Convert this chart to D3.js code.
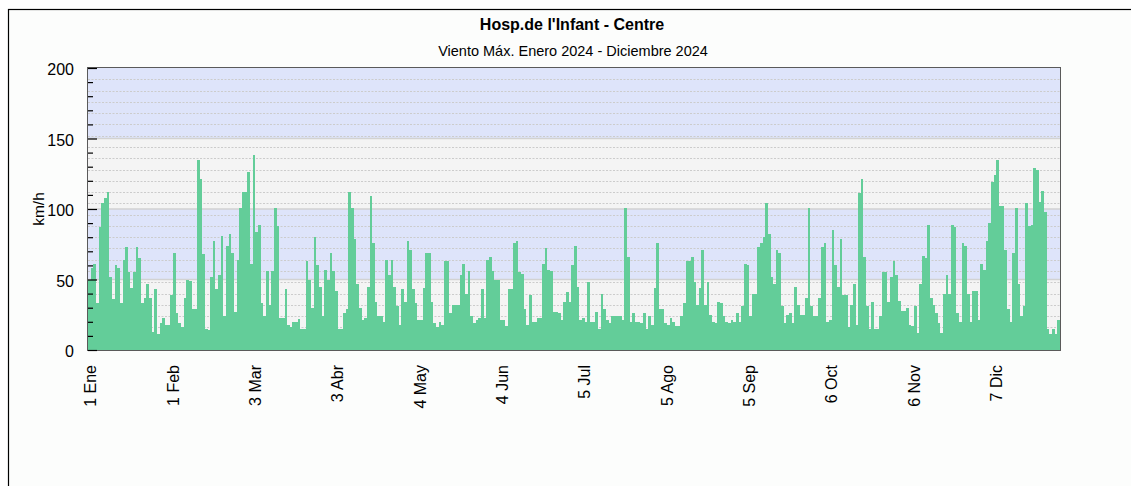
<!DOCTYPE html>
<html>
<head>
<meta charset="utf-8">
<script src="https://cdn.jsdelivr.net/npm/d3@7"></script>
<style>
  html, body { margin: 0; padding: 0; background: #ffffff; }
  svg { display: block; }
  text { font-family: "Liberation Sans", Arial, sans-serif; fill: #000; }
</style>
</head>
<body>
<svg id="chart" width="1131" height="486"></svg>
<script>
// ---- data: daily max wind (km/h), one array per month ----
const ene = [50,58,61,33,87,104,108,112,52,36,60,58,33,64,73,55,44,55,73,65,33,37,47,37,13,43,11,19,23,18,18];
const feb = [39,69,26,19,16,37,50,49,29,29,135,121,68,15,14,52,77,43,53,81,24,74,82,69,27,64,101,112,112];
const mar = [126,61,138,84,89,33,24,56,32,56,101,88,23,23,43,18,16,20,20,22,15,15,63,50,30,80,60,45,24,57,50];
const abr = [69,56,42,15,15,26,29,112,101,79,47,30,21,23,45,109,76,34,24,24,20,64,53,64,45,31,18,43,34,77];
const may = [71,43,33,21,21,44,69,69,34,19,16,20,18,63,63,26,32,32,32,53,61,40,56,24,19,21,23,43,23,64,66];
const jun = [56,50,50,21,21,17,43,43,76,77,55,54,29,18,39,20,20,23,23,61,72,57,56,27,27,26,21,34,41,34];
const jul = [60,74,45,21,23,20,48,20,20,27,15,40,29,21,19,24,24,24,24,21,101,66,20,26,20,20,19,26,15,24,18];
const ago = [44,76,29,29,19,18,23,20,17,17,24,33,63,63,66,48,32,44,71,32,48,25,20,19,34,33,24,20,19,21,20];
const sep = [26,20,31,61,60,24,40,40,73,76,80,104,82,52,47,71,69,31,19,25,26,19,45,32,25,25,37,101,31,24];
const oct = [24,37,73,76,20,21,85,60,45,79,39,39,16,32,47,18,111,121,66,31,15,34,15,15,24,55,55,34,52,63,53];
const nov = [35,28,28,30,18,17,31,12,47,67,65,89,37,32,26,19,12,40,53,40,89,87,26,20,76,74,40,20,42,42];
const dic = [21,61,57,77,90,119,124,135,102,102,71,29,20,69,101,47,24,31,104,88,89,129,128,105,113,98,15,11,15,11,21];

// x-axis tick labels and the day-of-year index they sit on
const xTickLabels = ["1 Ene","1 Feb","3 Mar","3 Abr","4 May","4 Jun","5 Jul","5 Ago","5 Sep","6 Oct","6 Nov","7 Dic"];
const xTickDays   = [0, 31, 62, 93, 124, 155, 186, 217, 248, 279, 310, 341];

// y-axis
const yMajorTicks = [0, 50, 100, 150, 200];
const yMinorTicks = [10,20,30,40,60,70,80,90,110,120,130,140,160,170,180,190];
const bandEdges   = [[0,50,"gray"],[50,100,"blue"],[100,150,"gray"],[150,200,"blue"]];
const gridValues  = [8,16,24,32,40,48,56,64,72,80,88,96,104,112,120,128,136,144,152,160,168,176,184,192];

const title = "Hosp.de l'Infant - Centre";
const subtitle = "Viento Máx. Enero 2024 - Diciembre 2024";
const yLabel = "km/h";

// ---- build ----
const values = [].concat(ene, feb, mar, abr, may, jun, jul, ago, sep, oct, nov, dic);
const nDays = values.length;

const svg = d3.select("#chart");
const L = 88, R = 1060, T = 68, B = 350;

const x = d3.scaleLinear().domain([0, nDays]).range([L, R]);
const y = d3.scaleLinear().domain([0, 200]).range([B, T]);

// outer frame (left and top edges visible)
svg.append("rect").attr("x", 0).attr("y", 0).attr("width", 1131).attr("height", 486).attr("fill", "#ffffff");
svg.append("rect").attr("x", 8.5).attr("y", 9.5).attr("width", 1300).attr("height", 600)
  .attr("fill", "#fcfdfc").attr("stroke", "#000").attr("stroke-width", 1.2);

// titles
svg.append("text").attr("x", 572).attr("y", 30).attr("text-anchor", "middle")
  .attr("font-size", 16).attr("font-weight", "bold").text(title);
svg.append("text").attr("x", 573).attr("y", 56).attr("text-anchor", "middle")
  .attr("font-size", 14.5).text(subtitle);

// background bands
const colors = { gray: "#f4f4f4", blue: "#dee4fa" };
svg.append("g").selectAll("rect").data(bandEdges).join("rect")
  .attr("x", L).attr("width", R - L)
  .attr("y", d => y(d[1])).attr("height", d => y(d[0]) - y(d[1]))
  .attr("fill", d => colors[d[2]]);

// dotted grid lines
svg.append("g").selectAll("line").data(gridValues).join("line")
  .attr("x1", L).attr("x2", R)
  .attr("y1", d => Math.round(y(d)) + 0.5).attr("y2", d => Math.round(y(d)) + 0.5)
  .attr("stroke", "#cccccc").attr("stroke-width", 1).attr("stroke-dasharray", "2,1.5");

// band boundary lines
svg.append("g").selectAll("line").data([50, 100, 150]).join("line")
  .attr("x1", L).attr("x2", R)
  .attr("y1", d => y(d)).attr("y2", d => y(d))
  .attr("stroke", "#d2d2d2").attr("stroke-width", 1.5);

// bars
svg.append("g").selectAll("rect").data(values).join("rect")
  .attr("x", (d, i) => Math.round(x(i)))
  .attr("width", (d, i) => Math.round(x(i + 1)) - Math.round(x(i)))
  .attr("y", d => y(d))
  .attr("height", d => B - y(d))
  .attr("fill", "#63cd99")
  .attr("shape-rendering", "crispEdges");

// plot frame
svg.append("rect").attr("x", L - 0.5).attr("y", T - 0.5).attr("width", R - L + 1).attr("height", B - T + 1)
  .attr("fill", "none").attr("stroke", "#5a5a5a").attr("stroke-width", 1);

// y axis: minor ticks
const yMinor = svg.append("g").attr("transform", `translate(${L},0)`)
  .call(d3.axisLeft(y).tickValues(yMinorTicks).tickSize(-5).tickFormat(""));
yMinor.select(".domain").remove();
yMinor.selectAll("line").attr("stroke", "#000").attr("stroke-width", 1.2);

// y axis: major ticks + labels
const yMajor = svg.append("g").attr("transform", `translate(${L},0)`)
  .call(d3.axisLeft(y).tickValues(yMajorTicks).tickSize(-9).tickPadding(14));
yMajor.select(".domain").remove();
yMajor.selectAll("line").attr("stroke", "#000").attr("stroke-width", 1.2);
yMajor.selectAll("text").attr("font-size", 16).attr("font-family", "Liberation Sans, Arial, sans-serif")
  .attr("fill", "#000").attr("dy", "0.42em");

// y label
svg.append("text").attr("transform", "translate(44,209) rotate(-90)")
  .attr("text-anchor", "middle").attr("font-size", 15.5).text(yLabel);

// x axis labels
const xAxis = svg.append("g").attr("transform", `translate(2,${B})`)
  .call(d3.axisBottom(x).tickValues(xTickDays).tickSize(0)
    .tickFormat((d, i) => xTickLabels[i]));
xAxis.select(".domain").remove();
xAxis.selectAll("text")
  .attr("font-size", 16).attr("font-family", "Liberation Sans, Arial, sans-serif").attr("fill", "#000")
  .attr("text-anchor", "end")
  .attr("transform", "rotate(-90)")
  .attr("x", -15).attr("y", 0).attr("dy", "0.36em");
</script>
</body>
</html>
